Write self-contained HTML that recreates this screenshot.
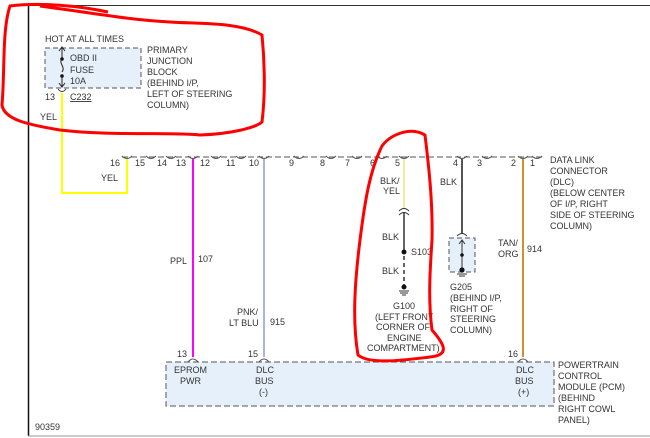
<!DOCTYPE html>
<html><head><meta charset="utf-8"><style>
html,body{margin:0;padding:0;background:#fff;}
svg{display:block;}
text{font-family:"Liberation Sans",sans-serif;font-size:9px;fill:#333;}
</style></head><body>
<svg width="650" height="438" viewBox="0 0 650 438" xmlns="http://www.w3.org/2000/svg">
<rect width="650" height="438" fill="#fff"/>
<line x1="28.5" y1="5" x2="28.5" y2="436" stroke="#111" stroke-width="1.5"/>
<line x1="28" y1="5.5" x2="650" y2="5.5" stroke="#333" stroke-width="1"/>
<line x1="28" y1="436" x2="650" y2="436" stroke="#999" stroke-width="1"/>

<text x="45" y="42">HOT AT ALL TIMES</text>
<rect x="45" y="48" width="96" height="40" fill="#e6f0fa" stroke="#555" stroke-dasharray="5,3"/>
<line x1="62" y1="48" x2="62" y2="58" stroke="#222"/>
<path d="M59,51 L62,47 L65,51" fill="none" stroke="#222"/>
<circle cx="62" cy="59" r="1.8" fill="#111"/>
<path d="M62,59 C58,63 66,67 62,72" fill="none" stroke="#222"/>
<circle cx="62" cy="76" r="1.8" fill="#111"/>
<line x1="62" y1="76" x2="62" y2="86" stroke="#222"/>
<path d="M59,83 L62,87 L65,83" fill="none" stroke="#222"/>
<text x="70" y="61">OBD II</text>
<text x="70" y="73">FUSE</text>
<text x="70" y="84">10A</text>
<text x="147" y="53">PRIMARY</text>
<text x="147" y="64">JUNCTION</text>
<text x="147" y="75">BLOCK</text>
<text x="147" y="86">(BEHIND I/P,</text>
<text x="147" y="97">LEFT OF STEERING</text>
<text x="147" y="108">COLUMN)</text>
<path d="M58,89 Q62,94 66,89" fill="none" stroke="#333"/>
<text x="45" y="100">13</text>
<text x="70" y="100" text-decoration="underline">C232</text>
<text x="40" y="120">YEL</text>

<path d="M62,93 L62,193 L127,193 L127,159" fill="none" stroke="#ffff00" stroke-width="2"/>
<text x="101" y="181">YEL</text>

<line x1="122" y1="157" x2="545" y2="157" stroke="#555" stroke-dasharray="6,3"/>
<g fill="none" stroke="#555">
<path d="M122,156 Q127,161 132,156"/><path d="M146,156 Q151,161 156,156"/><path d="M166,156 Q171,161 176,156"/>
<path d="M188,156 Q193,161 198,156"/><path d="M211,156 Q216,161 221,156"/><path d="M236,156 Q241,161 246,156"/>
<path d="M259,156 Q264,161 269,156"/><path d="M294,156 Q299,161 304,156"/><path d="M326,156 Q331,161 336,156"/>
<path d="M352,156 Q357,161 362,156"/><path d="M377,156 Q382,161 387,156"/><path d="M399,156 Q404,161 409,156"/>
<path d="M457,156 Q462,161 467,156"/><path d="M482,156 Q487,161 492,156"/><path d="M518,156 Q523,161 528,156"/>
<path d="M532,156 Q537,161 542,156"/>
</g>
<g>
<text x="110" y="166">16</text><text x="135" y="166">15</text><text x="157" y="166">14</text>
<text x="176" y="166">13</text><text x="200" y="166">12</text><text x="226" y="166">11</text>
<text x="249" y="166">10</text><text x="289" y="166">9</text><text x="320" y="166">8</text>
<text x="345" y="166">7</text><text x="370" y="166">6</text><text x="395" y="166">5</text>
<text x="453" y="166">4</text><text x="477" y="166">3</text><text x="511" y="166">2</text>
<text x="530" y="166">1</text>
</g>
<text x="550" y="163">DATA LINK</text>
<text x="550" y="174">CONNECTOR</text>
<text x="550" y="185">(DLC)</text>
<text x="550" y="196">(BELOW CENTER</text>
<text x="550" y="207">OF I/P, RIGHT</text>
<text x="550" y="218">SIDE OF STEERING</text>
<text x="550" y="229">COLUMN)</text>

<line x1="193" y1="159" x2="193" y2="357" stroke="#ff00ff" stroke-width="2"/>
<text x="170" y="264">PPL</text><text x="198" y="262">107</text>
<line x1="264" y1="159" x2="264" y2="357" stroke="#a8b4e8" stroke-width="2"/>
<text x="237" y="315">PNK/</text><text x="229" y="326">LT BLU</text><text x="270" y="325">915</text>
<line x1="523" y1="159" x2="523" y2="357" stroke="#d0902a" stroke-width="2"/>
<text x="498" y="246">TAN/</text><text x="498" y="257">ORG</text><text x="527" y="252">914</text>

<line x1="404" y1="159" x2="404" y2="208" stroke="#e8e060" stroke-width="1.2"/>
<text x="380" y="184">BLK/</text><text x="383" y="194">YEL</text>
<path d="M399,211 Q404,206 409,211 M399,215 Q404,210 409,215" fill="none" stroke="#333"/>
<line x1="404" y1="213" x2="404" y2="252" stroke="#333" stroke-width="1.5"/>
<text x="382" y="240">BLK</text>
<circle cx="404" cy="252" r="2.5" fill="#111"/>
<text x="411" y="255">S103</text>
<line x1="404" y1="256" x2="404" y2="286" stroke="#333" stroke-width="1.5" stroke-dasharray="4,3"/>
<text x="382" y="274">BLK</text>
<circle cx="404" cy="287" r="2.5" fill="#111"/>
<line x1="399" y1="291" x2="409" y2="291" stroke="#333"/><line x1="400" y1="293" x2="408" y2="293" stroke="#333"/><line x1="402" y1="295" x2="406" y2="295" stroke="#333"/>
<text x="393" y="309">G100</text>
<text x="375" y="320">(LEFT FRONT</text>
<text x="376" y="330">CORNER OF</text>
<text x="387" y="341">ENGINE</text>
<text x="367" y="351">COMPARTMENT)</text>

<line x1="462" y1="159" x2="462" y2="233" stroke="#555" stroke-width="2"/>
<text x="440" y="185">BLK</text>
<path d="M457,236 Q462,231 467,236" fill="none" stroke="#333"/>
<rect x="449" y="238" width="26" height="34" fill="#e6f0fa" stroke="#555" stroke-dasharray="5,3"/>
<path d="M459,244 L462,240 L465,244 M462,240 L462,270" fill="none" stroke="#333"/>
<circle cx="462" cy="255" r="1.8" fill="#111"/>
<circle cx="462" cy="270" r="2.6" fill="#111"/>
<line x1="457" y1="274" x2="467" y2="274" stroke="#333"/><line x1="459" y1="276" x2="465" y2="276" stroke="#333"/>
<text x="450" y="290">G205</text>
<text x="450" y="301">(BEHIND I/P,</text>
<text x="450" y="312">RIGHT OF</text>
<text x="450" y="322">STEERING</text>
<text x="450" y="333">COLUMN)</text>

<text x="177" y="357">13</text><text x="248" y="357">15</text><text x="508" y="357">16</text>
<g fill="none" stroke="#555">
<path d="M188,362 Q193,356 198,362"/><path d="M259,362 Q264,356 269,362"/><path d="M518,362 Q523,356 528,362"/>
</g>
<rect x="166" y="362" width="388" height="44" fill="#e6f0fa" stroke="#555" stroke-dasharray="6,3"/>
<text x="174" y="373">EPROM</text><text x="180" y="384">PWR</text>
<text x="256" y="373">DLC</text><text x="255" y="384">BUS</text><text x="259" y="395">(-)</text>
<text x="516" y="373">DLC</text><text x="515" y="384">BUS</text><text x="518" y="395">(+)</text>
<text x="558" y="368">POWERTRAIN</text>
<text x="558" y="379">CONTROL</text>
<text x="558" y="390">MODULE (PCM)</text>
<text x="558" y="401">(BEHIND</text>
<text x="558" y="412">RIGHT COWL</text>
<text x="558" y="423">PANEL)</text>
<text x="35" y="430">90359</text>

<path d="M108,12 C80,6 40,2 10,6 C2,30 5,70 2,105 C4,120 30,125 60,130 C110,136 170,132 200,135 C230,134 255,128 262,122 C266,90 264,55 262,35 C240,22 200,24 170,22 C130,20 100,14 40,6" fill="none" stroke="#ff0000" stroke-width="3"/>
<path d="M382,146 C390,135 410,126 425,135 C428,160 433,200 432,240 C430,270 428,300 432,330 C445,345 450,355 430,357 C405,360 370,365 358,355 C352,320 355,280 360,240 C365,200 370,170 382,146 Z" fill="none" stroke="#ff0000" stroke-width="3"/>
</svg>
</body></html>
